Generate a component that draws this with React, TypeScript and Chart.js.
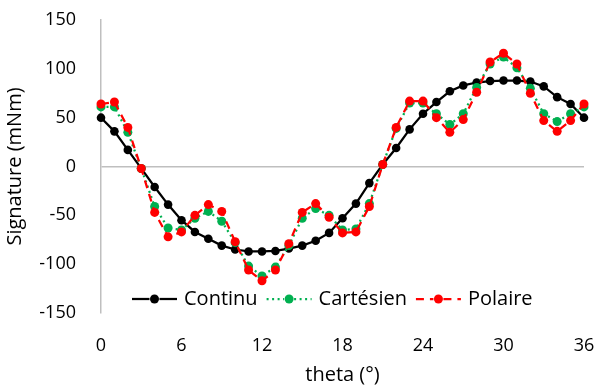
import React, { useEffect, useRef } from "react";
import { Chart, registerables } from "chart.js";

Chart.register(...registerables);

const theta = [0, 1, 2, 3, 4, 5, 6, 7, 8, 9, 10, 11, 12, 13, 14, 15, 16, 17, 18, 19, 20, 21, 22, 23, 24, 25, 26, 27, 28, 29, 30, 31, 32, 33, 34, 35, 36];

const continu = [50, 36, 17, -2, -21, -39, -55, -67, -74, -81, -85, -87, -87, -86.5, -84, -81, -76, -68, -53, -38, -17, 2, 19, 38, 54, 66, 77, 83, 86, 87.5, 88, 88, 87, 82, 71, 64, 50];

const cartesien = [61, 61, 35, -2, -41, -63, -65, -53, -46, -56, -78, -102, -112, -103, -81, -53, -43, -50, -65, -64, -38, 2, 39, 65, 65, 54, 43, 54, 81, 105, 112, 101, 80, 54, 46, 54, 61];

const polaire = [64, 66, 40, -2, -47, -72, -67, -50, -39, -46, -77, -106, -117, -106, -79, -47, -38, -52, -68, -67, -41, 2, 40, 67, 67, 50, 35, 48, 76, 107, 116, 105, 75, 47, 36, 47, 64];

const seriesNames = ["Continu", "Cartésien", "Polaire"];
const xTicks = [0, 6, 12, 18, 24, 30, 36];
const yTicks = [-150, -100, -50, 0, 50, 100, 150];
const xTitle = "theta (°)";
const yTitle = "Signature (mNm)";

const FONT = "'Open Sans'";
const AXIS_GRAY = "#BFBFBF";

const toPoints = (vals: number[]) => vals.map((v, i) => ({ x: theta[i], y: v }));

const legendPlugin = {
  id: "insideLegend",
  afterDraw(chart: any) {
    const ctx = chart.ctx;
    const lineY = 299;
    const textBase = 305;
    let x = 132;
    ctx.save();
    ctx.font = `20px ${FONT}`;
    ctx.textBaseline = "alphabetic";
    ctx.textAlign = "left";
    chart.data.datasets.forEach((ds: any) => {
      const len = 45;
      ctx.strokeStyle = ds.borderColor;
      ctx.lineWidth = ds.borderWidth;
      ctx.lineCap = "butt";
      ctx.setLineDash(ds.borderDash || []);
      ctx.beginPath();
      ctx.moveTo(x, lineY);
      ctx.lineTo(x + len / 2 - 5, lineY);
      ctx.stroke();
      ctx.beginPath();
      ctx.moveTo(x + len / 2 + 5, lineY);
      ctx.lineTo(x + len, lineY);
      ctx.stroke();
      ctx.setLineDash([]);
      ctx.fillStyle = ds.pointBackgroundColor;
      ctx.beginPath();
      ctx.arc(x + len / 2, lineY, 4.5, 0, Math.PI * 2);
      ctx.fill();
      x += len + 7;
      ctx.fillStyle = "#000";
      ctx.fillText(ds.label, x, textBase);
      x += ctx.measureText(ds.label).width + 9;
    });
    ctx.restore();
  },
};

export default function App() {
  const canvasRef = useRef<HTMLCanvasElement | null>(null);

  useEffect(() => {
    if (!canvasRef.current) return;
    const chart = new Chart(canvasRef.current, {
      type: "line",
      data: {
        datasets: [
          {
            label: seriesNames[0],
            data: toPoints(continu),
            borderColor: "#000000",
            backgroundColor: "#000000",
            pointBackgroundColor: "#000000",
            pointBorderColor: "#000000",
            borderWidth: 2.25,
            pointRadius: 4.3,
            pointBorderWidth: 0,
            order: 2,
            clip: false,
          },
          {
            label: seriesNames[1],
            data: toPoints(cartesien),
            borderColor: "#00B050",
            backgroundColor: "#00B050",
            pointBackgroundColor: "#00B050",
            pointBorderColor: "#00B050",
            borderWidth: 2.25,
            borderDash: [2, 3.5],
            pointRadius: 4.5,
            pointBorderWidth: 0,
            order: 1,
            clip: false,
          },
          {
            label: seriesNames[2],
            data: toPoints(polaire),
            borderColor: "#FF0000",
            backgroundColor: "#FF0000",
            pointBackgroundColor: "#FF0000",
            pointBorderColor: "#FF0000",
            borderWidth: 2.25,
            borderDash: [8, 6],
            pointRadius: 4.5,
            pointBorderWidth: 0,
            order: 0,
            clip: false,
          },
        ],
      },
      options: {
        animation: false,
        responsive: false,
        maintainAspectRatio: false,
        devicePixelRatio: 1,
        layout: { autoPadding: false, padding: { left: 0, right: 11, top: 20, bottom: 0 } },
        plugins: {
          legend: { display: false },
          tooltip: { enabled: false },
        },
        scales: {
          x: {
            type: "linear",
            min: 0,
            max: 36,
            afterBuildTicks: (scale: any) => {
              scale.ticks = xTicks.map((v) => ({ value: v }));
            },
            afterFit: (scale: any) => {
              scale.height = 79;
              scale.paddingLeft = 0;
              scale.paddingRight = 0;
            },
            grid: { display: false, drawTicks: false },
            border: { display: false },
            ticks: {
              padding: 22,
              color: "#000",
              font: { family: FONT, size: 18 },
              maxRotation: 0,
            },
            title: {
              display: true,
              text: xTitle,
              color: "#000",
              font: { family: FONT, size: 20 },
              padding: { top: 0, bottom: 5 },
            },
          },
          y: {
            type: "linear",
            min: -150,
            max: 150,
            afterBuildTicks: (scale: any) => {
              scale.ticks = yTicks.map((v) => ({ value: v }));
            },
            afterFit: (scale: any) => {
              scale.width = 101;
              scale.paddingTop = 0;
              scale.paddingBottom = 0;
            },
            grid: {
              drawTicks: false,
              lineWidth: 1.5,
              color: (c: any) => (c.tick && c.tick.value === 0 ? AXIS_GRAY : "rgba(0,0,0,0)"),
            },
            border: { display: true, color: AXIS_GRAY, width: 1.5 },
            ticks: {
              padding: 25,
              color: "#000",
              font: { family: FONT, size: 18 },
            },
            title: {
              display: true,
              text: yTitle,
              color: "#000",
              font: { family: FONT, size: 20 },
              padding: { top: 3, bottom: 0 },
            },
          },
        },
      },
      plugins: [legendPlugin],
    });
    return () => chart.destroy();
  }, []);

  return (
    <div style={{ position: "absolute", left: 0, top: 0, width: 595, height: 392, background: "#fff" }}>
      <canvas ref={canvasRef} width={595} height={392} />
    </div>
  );
}
